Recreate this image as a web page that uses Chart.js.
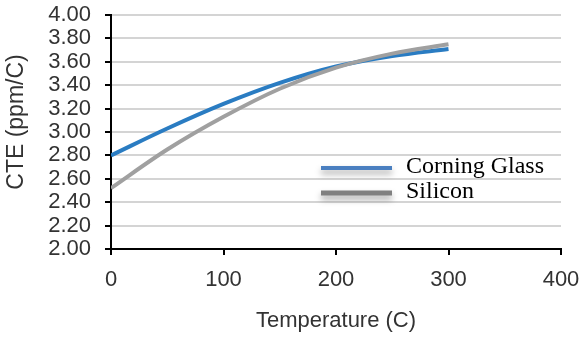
<!DOCTYPE html>
<html>
<head>
<meta charset="utf-8">
<script src="https://cdn.jsdelivr.net/npm/chart.js@4"></script>
<style>
  html, body { margin: 0; padding: 0; background: #fff; }
  #wrap { width: 585px; height: 337px; }
</style>
</head>
<body>
<div id="wrap"><canvas id="chart"></canvas></div>
<script>
const temperatures = [0, 50, 100, 150, 200, 250, 300];
const corningGlass = [2.80, 3.03, 3.24, 3.42, 3.56, 3.65, 3.71];
const silicon = [2.52, 2.85, 3.13, 3.37, 3.55, 3.67, 3.75];
const seriesLabels = ['Corning Glass', 'Silicon'];

const sans = "'Liberation Sans', Arial, sans-serif";
const serif = "'Liberation Serif', 'Times New Roman', serif";

function points(ys) {
    return temperatures.map((t, i) => ({ x: t, y: ys[i] }));
}

// legend drawn inside the plot, like the original
const innerLegend = {
    id: 'innerLegend',
    afterDraw(chart) {
        const ctx = chart.ctx;
        const items = [
            { label: seriesLabels[0], color: '#4a7fc0', width: 4, y: 168 },
            { label: seriesLabels[1], color: '#808080', width: 5, y: 193 }
        ];
        ctx.save();
        items.forEach(it => {
            ctx.save();
            ctx.shadowColor = 'rgba(0,0,0,0.35)';
            ctx.shadowBlur = 6;
            ctx.shadowOffsetY = 4;
            ctx.strokeStyle = it.color;
            ctx.lineWidth = it.width;
            ctx.beginPath();
            ctx.moveTo(321, it.y);
            ctx.lineTo(392, it.y);
            ctx.stroke();
            ctx.restore();
            ctx.fillStyle = '#000';
            ctx.font = '24px ' + serif;
            ctx.textBaseline = 'middle';
            ctx.fillText(it.label, 406, it.y - 1);
        });
        ctx.restore();
    }
};

// y axis title, placed a bit above the plot centre as in the original
const yTitle = {
    id: 'yTitle',
    afterDraw(chart) {
        const ctx = chart.ctx;
        ctx.save();
        ctx.translate(17, 122);
        ctx.rotate(-Math.PI / 2);
        ctx.fillStyle = '#333';
        ctx.font = '23px ' + sans;
        ctx.textAlign = 'center';
        ctx.textBaseline = 'middle';
        ctx.fillText('CTE (ppm/C)', 0, 0);
        ctx.restore();
    }
};

new Chart(document.getElementById('chart'), {
    type: 'line',
    data: {
        datasets: [{
            label: seriesLabels[0],
            data: points(corningGlass),
            borderColor: '#2a7cc2',
            borderWidth: 4,
            pointRadius: 0,
            cubicInterpolationMode: 'monotone',
            order: 1
        }, {
            label: seriesLabels[1],
            data: points(silicon),
            borderColor: '#a0a0a0',
            borderWidth: 4,
            pointRadius: 0,
            cubicInterpolationMode: 'monotone',
            order: 0
        }]
    },
    options: {
        responsive: true,
        maintainAspectRatio: false,
        animation: false,
        layout: { padding: { top: 15, right: 24, left: 0, bottom: 0 } },
        plugins: {
            legend: { display: false },
            tooltip: { enabled: false }
        },
        scales: {
            x: {
                type: 'linear',
                min: 0,
                max: 400,
                ticks: { stepSize: 100, color: '#333', font: { family: sans, size: 22 }, padding: 12, maxRotation: 0 },
                grid: { drawOnChartArea: false, color: '#000', tickLength: 6, lineWidth: 2 },
                border: { color: '#000', width: 2 },
                title: {
                    display: true,
                    text: 'Temperature (C)',
                    color: '#333',
                    font: { family: sans, size: 22 },
                    padding: { top: 0, bottom: 3 }
                },
                afterFit(s) { s.height = 88; s.paddingLeft = 0; s.paddingRight = 0; }
            },
            y: {
                min: 2,
                max: 4,
                ticks: {
                    stepSize: 0.2,
                    autoSkip: false,
                    color: '#333',
                    font: { family: sans, size: 22 },
                    padding: 14,
                    callback: v => v.toFixed(2)
                },
                grid: { color: '#d4d4d4', lineWidth: 2, tickColor: '#000', tickLength: 6 },
                border: { color: '#000', width: 2 },
                afterFit(s) { s.width = 111; s.paddingTop = 0; s.paddingBottom = 0; }
            }
        }
    },
    plugins: [innerLegend, yTitle]
});
</script>
</body>
</html>
